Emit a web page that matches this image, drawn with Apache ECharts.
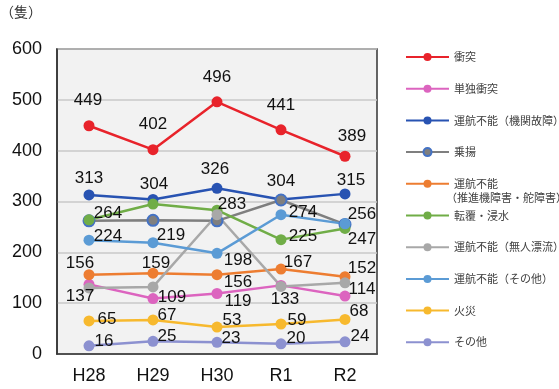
<!DOCTYPE html>
<html>
<head>
<meta charset="utf-8">
<script src="https://cdn.jsdelivr.net/npm/echarts@6/dist/echarts.min.js"></script>
<style>
  html, body { margin: 0; padding: 0; background: #ffffff; }
  #chart { width: 559px; height: 389px; }
</style>
</head>
<body>
<div id="chart"></div>
<script>
// 年度別・事故種類別の船舶事故隻数
const categories = ['H28', 'H29', 'H30', 'R1', 'R2'];
const yTicks = { min: 0, max: 600, interval: 100 };

const collision         = [449, 402, 496, 441, 389]; // 衝突
const soloCollision     = [137, 109, 119, 135, 114]; // 単独衝突
const engineFailure     = [313, 304, 326, 304, 315]; // 運航不能（機関故障）
const grounding         = [262, 263, 262, 303, 255]; // 乗揚
const propulsionFailure = [156, 159, 156, 167, 152]; // 運航不能（推進機障害・舵障害）
const capsizing         = [264, 295, 283, 225, 247]; // 転覆・浸水
const drifting          = [130, 132, 274, 133, 140]; // 運航不能（無人漂流）
const otherDisabled     = [224, 219, 198, 274, 256]; // 運航不能（その他）
const fire              = [65, 67, 53, 59, 68];      // 火災
const others            = [16, 25, 23, 20, 24];      // その他

// 数値ラベルの位置（点の中心からのずれ、null は非表示）
const offCollision  = [[-1, -25], [0, -25], [0, -25], [0, -25], [7, -20]];
const offSolo       = [[-9, 12], [19, -1], [21, 8], null, [17, -7]];
const offEngine     = [[0, -17], [1, -15], [-2, -19], [0, -18], [6, -14]];
const offGrounding  = [null, null, null, null, null];
const offPropulsion = [[-9, -11], [3, -10], [21, 8], [17, -7], [17, -8]];
const offCapsizing  = [[19, -6], null, [15, -6], [22, -3], [17, 11]];
const offDrifting   = [null, null, null, [4, 13], null];
const offOther      = [[19, -4], [18, -7], [21, 7], [22, -2], [17, -10]];
const offFire       = [[18, -2], [14, -5], [15, -7], [16, -4], [14, -8]];
const offOthers     = [[15, -5], [14, -5], [14, -4], [15, -6], [15, -5]];

const numFont = "'Liberation Sans', Arial, sans-serif";
const jpFont = "'Noto Sans CJK JP', sans-serif";

const seriesDefs = [
  { name: '衝突', data: collision, offsets: offCollision, color: '#e8232b' },
  { name: '単独衝突', data: soloCollision, offsets: offSolo, color: '#dc64bf' },
  { name: '運航不能（機関故障）', data: engineFailure, offsets: offEngine, color: '#2853b2' },
  { name: '乗揚', data: grounding, offsets: offGrounding, color: '#7f7f7f', marker: '#7f7f7f', border: '#4472c4' },
  { name: '運航不能（推進機障害・舵障害）', data: propulsionFailure, offsets: offPropulsion, color: '#ed7d31' },
  { name: '転覆・浸水', data: capsizing, offsets: offCapsizing, color: '#70ad47' },
  { name: '運航不能（無人漂流）', data: drifting, offsets: offDrifting, color: '#a8a8a8' },
  { name: '運航不能（その他）', data: otherDisabled, offsets: offOther, color: '#5b9bd5' },
  { name: '火災', data: fire, offsets: offFire, color: '#f7b92e' },
  { name: 'その他', data: others, offsets: offOthers, color: '#8c91d0' }
];

const series = seriesDefs.map(function (s) {
  return {
    name: s.name,
    type: 'line',
    symbol: 'circle',
    symbolSize: 11,
    lineStyle: { color: s.color, width: 2.5 },
    itemStyle: {
      color: s.marker || s.color,
      borderColor: s.border || s.color,
      borderWidth: s.border ? 2 : 0
    },
    emphasis: { disabled: true },
    data: s.data.map(function (v, i) {
      const off = s.offsets[i];
      return {
        value: v,
        label: off ? {
          show: true,
          position: 'inside',
          offset: off,
          formatter: String(v),
          color: '#111111',
          fontFamily: numFont,
          fontSize: 17
        } : { show: false }
      };
    })
  };
});

const chart = echarts.init(document.getElementById('chart'), null, { renderer: 'canvas' });
chart.setOption({
  animation: false,
  backgroundColor: '#ffffff',
  grid: {
    left: 57, right: 182, top: 49, bottom: 35,
    show: true,
    backgroundColor: '#f2f2f2',
    borderColor: '#333333',
    borderWidth: 1.5
  },
  legend: {
    orient: 'vertical',
    left: 400,
    top: 45,
    itemWidth: 43,
    itemHeight: 10,
    itemGap: 17.7,
    textStyle: { color: '#404040', fontFamily: jpFont, fontSize: 11, lineHeight: 14 },
    formatter: function (name) {
      return name === '運航不能（推進機障害・舵障害）' ? '運航不能' : name;
    },
    data: seriesDefs.map(function (s) { return s.name; })
  },
  xAxis: {
    type: 'category',
    data: categories,
    boundaryGap: true,
    axisLine: { show: true, lineStyle: { color: '#333333', width: 1.5 } },
    axisTick: { show: false },
    axisLabel: { color: '#111111', fontFamily: numFont, fontSize: 18, margin: 13 }
  },
  yAxis: {
    type: 'value',
    min: yTicks.min,
    max: yTicks.max,
    interval: yTicks.interval,
    axisLine: { show: true, lineStyle: { color: '#333333', width: 1.5 } },
    axisTick: { show: false },
    axisLabel: { color: '#111111', fontFamily: numFont, fontSize: 18, margin: 15 },
    splitLine: { show: true, lineStyle: { color: '#c8c8c8', width: 1.5 } }
  },
  graphic: [
    {
      type: 'text', left: 0, top: 5,
      style: { text: '（隻）', fill: '#333333', font: "14px 'Noto Sans CJK JP', sans-serif" }
    },
    {
      type: 'text', left: 446, top: 192,
      style: { text: '（推進機障害・舵障害）', fill: '#404040', font: "11px 'Noto Sans CJK JP', sans-serif" }
    }
  ],
  series: series
});
</script>
</body>
</html>
